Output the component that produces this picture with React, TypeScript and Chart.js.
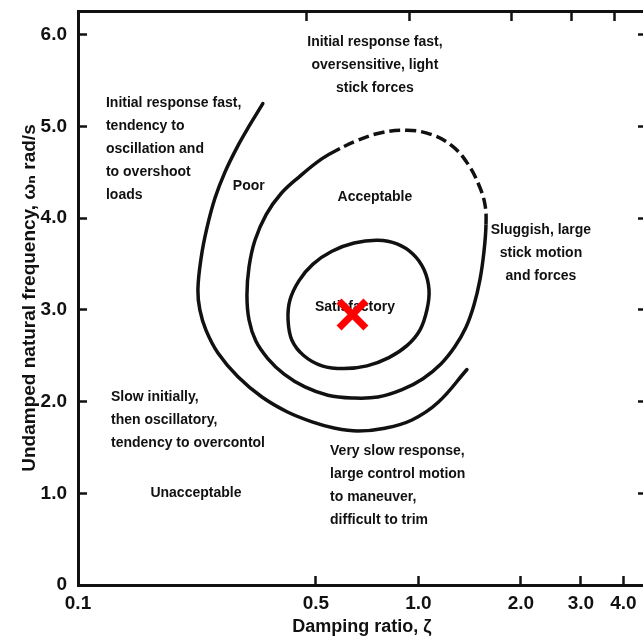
import React, { useEffect, useRef } from 'react';
import { Chart, registerables } from 'chart.js';

Chart.register(...registerables);

// ---------- axis ticks ----------
const xTickValues = [0.1, 0.5, 1, 2, 3, 4];
const xTickLabels = ['0.1', '0.5', '1.0', '2.0', '3.0', '4.0'];
const yTickValues = [0, 1, 2, 3, 4, 5, 6];
const yTickLabels = ['0', '1.0', '2.0', '3.0', '4.0', '5.0', '6.0'];
const xMin = 0.1;
const xMax = 4.66;
const yMin = 0;
const yMax = 6.26;
// the scanned frame is slightly skewed: top tick marks sit a little left of the bottom ones
const xTopMin = 0.1063;
const xTopMax = 4.954;

// ---------- outer "Poor" boundary (open curve) ----------
const outerZeta = [0.349, 0.32, 0.293, 0.27, 0.2526, 0.239, 0.23, 0.225, 0.228, 0.2376, 0.2577, 0.295, 0.347, 0.411, 0.487, 0.569, 0.664, 0.797, 0.957, 1.141, 1.388];
const outerOmega = [5.25, 5.02, 4.77, 4.5, 4.22, 3.89, 3.57, 3.22, 3.0, 2.78, 2.53, 2.27, 2.05, 1.89, 1.78, 1.71, 1.68, 1.71, 1.8, 1.99, 2.35];

// ---------- "Acceptable" boundary (closed; top part dashed) ----------
const acceptZeta = [0.588, 0.521, 0.449, 0.395, 0.357, 0.331, 0.318, 0.3135, 0.318, 0.333, 0.361, 0.403, 0.464, 0.542, 0.638, 0.76, 0.895, 1.031, 1.164, 1.28, 1.379, 1.455, 1.516, 1.557, 1.579, 1.568, 1.506, 1.398, 1.263, 1.096, 0.925, 0.771, 0.664];
const acceptOmega = [4.76, 4.65, 4.46, 4.27, 4.04, 3.76, 3.47, 3.16, 2.89, 2.66, 2.47, 2.3, 2.16, 2.07, 2.04, 2.05, 2.13, 2.25, 2.41, 2.6, 2.81, 3.05, 3.33, 3.63, 3.93, 4.15, 4.36, 4.59, 4.78, 4.91, 4.96, 4.93, 4.85];
const acceptDashFromIndex = 24; // segments from this point onward (back to start) are dashed

// ---------- "Satisfactory" boundary (closed) ----------
const satisZeta = [0.76, 0.647, 0.557, 0.49, 0.446, 0.4195, 0.414, 0.425, 0.461, 0.521, 0.604, 0.706, 0.819, 0.925, 1.01, 1.059, 1.074, 1.038, 0.963, 0.865];
const satisOmega = [3.76, 3.73, 3.64, 3.5, 3.32, 3.11, 2.89, 2.67, 2.5, 2.39, 2.36, 2.39, 2.48, 2.61, 2.78, 3.0, 3.22, 3.44, 3.61, 3.72];

// ---------- red design point ----------
const markerZeta = [0.64];
const markerOmega = [2.95];

// ---------- region notes ----------
const noteTopLines = ['Initial response fast,', 'oversensitive, light', 'stick forces'];
const noteLeftTopLines = ['Initial response fast,', 'tendency to', 'oscillation and', 'to overshoot', 'loads'];
const notePoorLines = ['Poor'];
const noteAcceptLines = ['Acceptable'];
const noteSatisLines = ['Satisfactory'];
const noteSluggishLines = ['Sluggish, large', 'stick motion', 'and forces'];
const noteSlowLines = ['Slow initially,', 'then oscillatory,', 'tendency to overcontol'];
const noteUnaccLines = ['Unacceptable'];
const noteVerySlowLines = ['Very slow response,', 'large control motion', 'to maneuver,', 'difficult to trim'];

const notes = [
  { lines: noteTopLines, zeta: 0.745, omega: 5.92, align: 'center' },
  { lines: noteLeftTopLines, zeta: 0.1208, omega: 5.25, align: 'left' },
  { lines: notePoorLines, zeta: 0.285, omega: 4.35, align: 'left' },
  { lines: noteAcceptLines, zeta: 0.745, omega: 4.23, align: 'center' },
  { lines: noteSatisLines, zeta: 0.651, omega: 3.03, align: 'center' },
  { lines: noteSluggishLines, zeta: 2.29, omega: 3.87, align: 'center' },
  { lines: noteSlowLines, zeta: 0.125, omega: 2.05, align: 'left' },
  { lines: noteUnaccLines, zeta: 0.222, omega: 1.0, align: 'center' },
  { lines: noteVerySlowLines, zeta: 0.55, omega: 1.46, align: 'left' },
];

const FONT = '"Liberation Sans", Arial, "DejaVu Sans", sans-serif';
const INK = '#111111';

const toPoints = (xs: number[], ys: number[]) => xs.map((x, i) => ({ x, y: ys[i] }));
// wrap a closed loop so every visible point has both neighbours (smooth closure)
const wrapLoop = (pts: { x: number; y: number }[]) => [pts[pts.length - 1], ...pts, pts[0], pts[1]];

const notesPlugin = {
  id: 'regionNotes',
  beforeDatasetsDraw(chart: any) {
    const { ctx, scales } = chart;
    ctx.save();
    ctx.fillStyle = INK;
    ctx.font = `bold 14px ${FONT}`;
    ctx.textBaseline = 'middle';
    const lineH = 23;
    notes.forEach((n) => {
      const px = scales.x.getPixelForValue(n.zeta);
      const py = scales.y.getPixelForValue(n.omega);
      ctx.textAlign = n.align;
      n.lines.forEach((t, i) => ctx.fillText(t, px, py + i * lineH));
    });
    ctx.restore();
  },
};

const zeroPadding = (s: any) => {
  s.paddingTop = 0;
  s.paddingBottom = 0;
  s.paddingLeft = 0;
  s.paddingRight = 0;
};

export default function App() {
  const ref = useRef<HTMLCanvasElement | null>(null);

  useEffect(() => {
    if (!ref.current) return;
    const acceptPts = wrapLoop(toPoints(acceptZeta, acceptOmega));
    const satisPts = wrapLoop(toPoints(satisZeta, satisOmega));
    const nAcc = acceptZeta.length;
    const nSat = satisZeta.length;
    const hidden = 'rgba(0,0,0,0)';

    const tickFont = { family: FONT, size: 19, weight: 'bold' as const };
    const inwardGrid = (len: number) => ({
      display: true,
      drawOnChartArea: false,
      drawTicks: true,
      tickLength: -len,
      tickWidth: 2.5,
      color: INK,
    });
    const border = { display: true, width: 3, color: INK };
    const curveStyle = {
      borderColor: INK,
      borderWidth: 3.5,
      tension: 0.4,
      pointRadius: 0,
      fill: false,
      borderJoinStyle: 'round',
      borderCapStyle: 'round',
    };

    const chart = new Chart(ref.current, {
      type: 'line',
      data: {
        datasets: [
          {
            label: 'Poor boundary',
            data: toPoints(outerZeta, outerOmega),
            ...curveStyle,
          },
          {
            label: 'Acceptable boundary',
            data: acceptPts,
            ...curveStyle,
            borderCapStyle: 'butt',
            segment: {
              borderColor: (c: any) => (c.p0DataIndex === 0 || c.p0DataIndex === nAcc + 1 ? hidden : undefined),
              borderDash: (c: any) => (c.p0DataIndex >= acceptDashFromIndex + 1 ? [11, 5] : undefined),
            },
          },
          {
            label: 'Satisfactory boundary',
            data: satisPts,
            ...curveStyle,
            borderCapStyle: 'butt',
            segment: {
              borderColor: (c: any) => (c.p0DataIndex === 0 || c.p0DataIndex === nSat + 1 ? hidden : undefined),
            },
          },
          {
            label: 'Design point',
            data: toPoints(markerZeta, markerOmega),
            showLine: false,
            pointStyle: 'crossRot',
            pointRadius: 19,
            pointBorderWidth: 7,
            borderColor: '#ff0000',
            pointBorderColor: '#ff0000',
            backgroundColor: '#ff0000',
          },
        ],
      },
      options: {
        animation: false,
        responsive: false,
        maintainAspectRatio: false,
        layout: { autoPadding: false, padding: { top: 11, left: 0, right: 0, bottom: 0 } },
        plugins: { legend: { display: false }, tooltip: { enabled: false } },
        scales: {
          x: {
            type: 'logarithmic',
            position: 'bottom',
            min: xMin,
            max: xMax,
            bounds: 'data',
            afterBuildTicks: (s: any) => {
              s.ticks = xTickValues.map((v) => ({ value: v }));
            },
            afterFit: (s: any) => {
              s.height = 53;
              zeroPadding(s);
            },
            ticks: {
              autoSkip: false,
              maxRotation: 0,
              padding: 16,
              color: INK,
              font: tickFont,
              callback: (_v: any, i: number) => xTickLabels[i] ?? '',
            },
            grid: inwardGrid(9),
            border,
            title: {
              display: true,
              text: 'Damping ratio, ζ',
              color: INK,
              font: { family: FONT, size: 18, weight: 'bold' },
              padding: { top: 0, bottom: 0 },
            },
          },
          x2: {
            type: 'logarithmic',
            position: 'top',
            min: xTopMin,
            max: xTopMax,
            bounds: 'data',
            afterBuildTicks: (s: any) => {
              s.ticks = xTickValues.slice(1).map((v) => ({ value: v }));
            },
            afterFit: (s: any) => {
              s.height = 0;
              zeroPadding(s);
            },
            ticks: { display: false },
            grid: inwardGrid(10),
            border,
          },
          y: {
            type: 'linear',
            position: 'left',
            min: yMin,
            max: yMax,
            afterBuildTicks: (s: any) => {
              s.ticks = yTickValues.map((v) => ({ value: v }));
            },
            afterFit: (s: any) => {
              s.width = 78;
              zeroPadding(s);
            },
            ticks: {
              autoSkip: false,
              padding: 20,
              color: INK,
              font: tickFont,
              callback: (_v: any, i: number) => yTickLabels[i] ?? '',
            },
            grid: inwardGrid(9),
            border,
            title: {
              display: true,
              text: 'Undamped natural frequency, ωₙ rad/s',
              color: INK,
              font: { family: FONT, size: 19, weight: 'bold' },
              padding: { top: 18, bottom: 0 },
            },
          },
          y2: {
            type: 'linear',
            position: 'right',
            min: yMin,
            max: yMax,
            afterBuildTicks: (s: any) => {
              s.ticks = yTickValues.map((v) => ({ value: v }));
            },
            afterFit: (s: any) => {
              s.width = 0;
              zeroPadding(s);
            },
            ticks: { display: false },
            grid: inwardGrid(8),
            border,
          },
        },
      },
      plugins: [notesPlugin],
    } as any);

    return () => chart.destroy();
  }, []);

  return (
    <div
      style={{
        position: 'fixed',
        left: 0,
        top: 0,
        width: 643,
        height: 638,
        overflow: 'hidden',
        background: '#ffffff',
      }}
    >
      <canvas ref={ref} width={646} height={638} style={{ display: 'block', width: 646, height: 638 }} />
    </div>
  );
}
